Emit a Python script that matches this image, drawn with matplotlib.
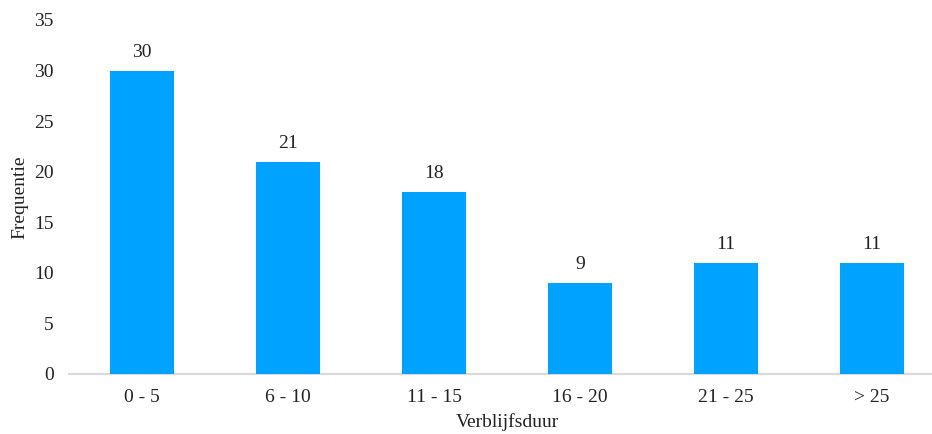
import matplotlib.pyplot as plt

plt.rcParams['font.family'] = ['Liberation Serif', 'DejaVu Serif']

categories = ['0 - 5', '6 - 10', '11 - 15', '16 - 20', '21 - 25', '> 25']
counts = [30, 21, 18, 9, 11, 11]

BAR_COLOR = '#00A2FF'
AXIS_COLOR = '#D9D9D9'
TEXT_COLOR = '#222222'
FS = 14

fig = plt.figure(figsize=(9.32, 4.34), dpi=100)
ax = fig.add_axes([69 / 932, 60 / 434, 876 / 932, 354 / 434])

xs = range(len(categories))
bars = ax.bar(xs, counts, width=0.445, color=BAR_COLOR, zorder=3)

for bar, n in zip(bars, counts):
    ax.annotate(str(n), (bar.get_x() + bar.get_width() / 2, n),
                xytext=(0, 7), textcoords='offset points',
                ha='center', va='bottom', fontsize=FS, color=TEXT_COLOR)

ax.set_xlim(-0.5, 5.5)
ax.set_ylim(0, 35)
ax.set_yticks(range(0, 36, 5))
ax.set_xticks(list(xs))
ax.set_xticklabels(categories)

for side in ('top', 'right', 'left'):
    ax.spines[side].set_visible(False)
ax.spines['bottom'].set_color(AXIS_COLOR)
ax.spines['bottom'].set_linewidth(1.5)
ax.spines['bottom'].set_zorder(2)

ax.tick_params(axis='both', length=0, labelsize=FS, colors=TEXT_COLOR)
ax.tick_params(axis='x', pad=11)
ax.tick_params(axis='y', pad=11)

ax.set_xlabel('Verblijfsduur', fontsize=FS, color=TEXT_COLOR, labelpad=5)
ax.set_ylabel('Frequentie', fontsize=FS, color=TEXT_COLOR, labelpad=4)

fig.savefig('out.png', dpi=100)
